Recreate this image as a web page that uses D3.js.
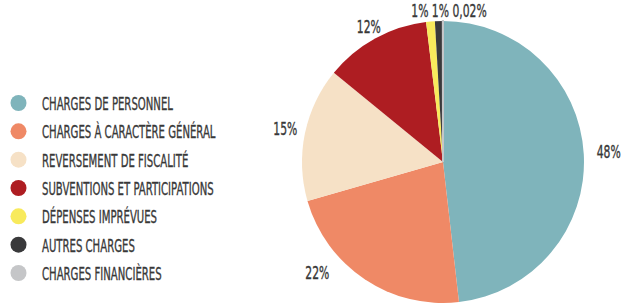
<!DOCTYPE html>
<html><head><meta charset="utf-8">
<script src="https://cdn.jsdelivr.net/npm/d3@7/dist/d3.min.js"></script>
<style>html,body{margin:0;padding:0;background:#fff;}svg{display:block;}</style>
</head><body>
<svg id="chart" width="624" height="303"></svg>
<script>
// ---- data ----
const categories = [
  "CHARGES DE PERSONNEL",
  "CHARGES À CARACTÈRE GÉNÉRAL",
  "REVERSEMENT DE FISCALITÉ",
  "SUBVENTIONS ET PARTICIPATIONS",
  "DÉPENSES IMPRÉVUES",
  "AUTRES CHARGES",
  "CHARGES FINANCIÈRES"
];
const values = [48.3, 22.4, 15.4, 12.2, 1.0, 0.9, 0.02];
const valueLabels = ["48%", "22%", "15%", "12%", "1%", "1%", "0,02%"];
const colors = ["#7fb4bb", "#ef8966", "#f6e1c6", "#ae1d22", "#f8ea5c", "#39393b", "#c5c6c8"];

// ---- layout ----
const W = 624, H = 303;
const cx = 443, cy = 162, R = 141;
const svg = d3.select("#chart");
const FONT = "'Liberation Sans Narrow','DejaVu Sans Condensed','Roboto Condensed',sans-serif";
const textColor = "#383838";

function calib(str, size, weight, target) {
  const p = svg.append("text").attr("font-family", FONT).attr("font-size", size)
    .attr("font-weight", weight).text(str);
  const w = p.node().getComputedTextLength();
  p.remove();
  return target / w;
}
const LEG_SIZE = 17.5, LAB_SIZE = 17.5;
const SX_LEG = calib(categories[0], LEG_SIZE, "normal", 131);
const SX_LAB = calib(valueLabels[0], LAB_SIZE, "normal", 24);

function ctext(g, x, y, str, size, anchor, sx) {
  return g.append("text")
    .attr("transform", `translate(${x},${y}) scale(${sx},1)`)
    .attr("font-family", FONT)
    .attr("font-size", size)
    .attr("fill", textColor)
    .attr("stroke", textColor)
    .attr("stroke-width", 0.35)
    .attr("text-anchor", anchor || "start")
    .attr("dominant-baseline", "central")
    .text(str);
}

// ---- pie ----
const pie = d3.pie().sort(null).value(d => d)(values);
const arc = d3.arc().innerRadius(0).outerRadius(R);
const gPie = svg.append("g").attr("transform", `translate(${cx},${cy})`);
gPie.selectAll("path").data(pie).enter().append("path")
  .attr("d", arc)
  .attr("fill", (d, i) => colors[i])
  .attr("stroke", (d, i) => d.value < 0.5 ? colors[i] : "none")
  .attr("stroke-width", 2);

// ---- labels ----
const gLab = svg.append("g");
const labelR = [166, 168, 161, 154];
const yMax = 273.5;
pie.forEach((d, i) => {
  if (values[i] < 2) return;
  const a = (d.startAngle + d.endAngle) / 2;
  const r = labelR[i];
  let x = Math.sin(a) * r, y = -Math.cos(a) * r;
  if (cy + y > yMax) { y = yMax - cy; x = Math.sign(x) * Math.sqrt(r * r - y * y); }
  ctext(gLab, cx + x, cy + y, valueLabels[i], LAB_SIZE, "middle", SX_LAB);
});
// small slices grouped on one line above the pie
const small = valueLabels.filter((l, i) => values[i] < 2).join(" ");
ctext(gLab, cx + 6, 11.5, small, LAB_SIZE, "middle", SX_LAB);

// ---- legend ----
const gLeg = svg.append("g");
const legY = d3.scalePoint().domain(categories).range([103, 273]);
categories.forEach((c, i) => {
  gLeg.append("circle").attr("cx", 18.5).attr("cy", legY(c)).attr("r", 8).attr("fill", colors[i]);
  ctext(gLeg, 42, legY(c) + 0.5, c, LEG_SIZE, "start", SX_LEG);
});
</script>
</body></html>
